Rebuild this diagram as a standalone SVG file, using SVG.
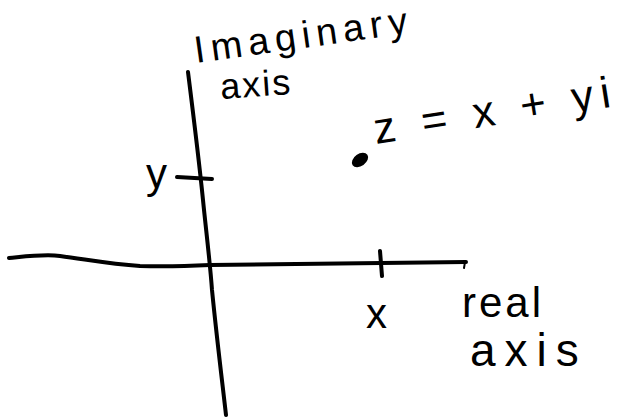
<svg xmlns="http://www.w3.org/2000/svg" width="632" height="419" viewBox="0 0 632 419">
<style>
.ln{fill:none;stroke:#000;stroke-width:4;stroke-linecap:round;stroke-linejoin:round}
.t{font-family:"Liberation Sans",Arial,sans-serif;fill:#000}
</style>
<rect width="632" height="419" fill="#fff"/>
<g id="axes">
<path class="ln" d="M188,72 C194,120 200,170 203,200 C206,230 210,262 212,290 C217,340 222,380 226,415"/>
<path class="ln" d="M9,258 C30,256 45,254 60,256 C90,260 110,264 140,266 C170,267 190,266 210,265 C280,264 360,263 466,262"/>
<path class="ln" d="M177,177 L212,179"/>
<path class="ln" d="M380,251 L382,276"/>
<path class="ln" d="M465,262 L464,268" style="stroke-width:2"/>
</g>
<g id="point">
<ellipse cx="360" cy="160" rx="9" ry="6" transform="rotate(-35 360 160)" fill="#000"/>
</g>
<g id="labels">
<text class="t" x="196" y="63" font-size="38" letter-spacing="6" transform="rotate(-8 196 63)">Imaginary</text>
<text class="t" x="221" y="99" font-size="36" letter-spacing="2" transform="rotate(-4 221 99)">axis</text>
<text class="t" x="376" y="144" font-size="44" letter-spacing="7" transform="rotate(-9 376 144)">z = x + yi</text>
<text class="t" x="146" y="188" font-size="42">y</text>
<text class="t" x="366" y="328" font-size="42">x</text>
<text class="t" x="462" y="317" font-size="42" letter-spacing="3">real</text>
<text class="t" x="470" y="366" font-size="46" letter-spacing="9">axis</text>
</g>
</svg>
